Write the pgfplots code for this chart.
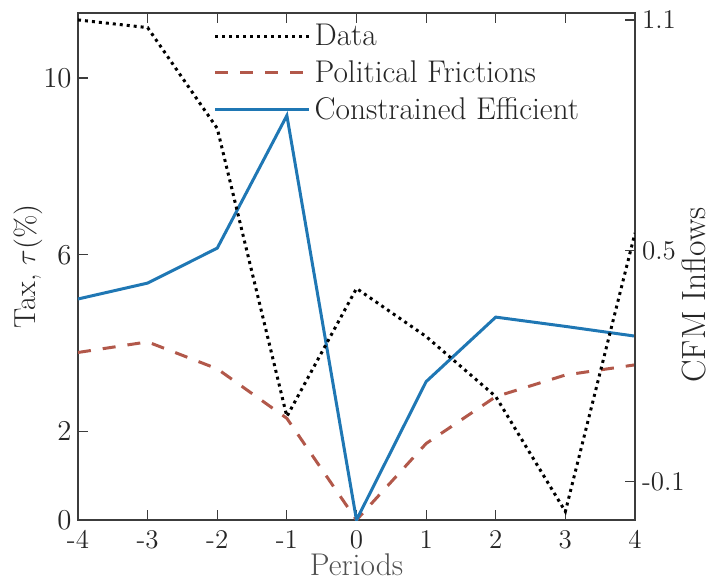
\documentclass[border=0pt]{standalone}
\usepackage{pgfplots}
\pgfplotsset{compat=1.18}
\definecolor{cblue}{RGB}{31,119,180}
\definecolor{cred}{RGB}{178,88,74}
\definecolor{axgray}{RGB}{60,60,60}
\definecolor{txtgray}{RGB}{38,38,38}
\definecolor{lblgray}{RGB}{80,80,80}
\begin{document}
\begin{tikzpicture}
\path[use as bounding box] (-39pt,-29.5pt) rectangle (317pt,260pt);
\pgfplotsset{
  every axis/.append style={font=\fontsize{13.5}{15}\selectfont},
  myaxis/.style={
    scale only axis, width=278.5pt, height=253.5pt,
    at={(0pt,0pt)}, anchor=south west,
    xmin=-4, xmax=4,
    tick align=inside, major tick length=5pt,
    axis line style={axgray, line width=0.6pt},
    every tick/.style={axgray, line width=0.6pt},
    tick label style={text=txtgray},
  },
}
\begin{axis}[myaxis,
  ymin=0, ymax=11.47,
  xtick={-4,-3,-2,-1,0,1,2,3,4},
  xticklabels={-4,-3,-2,-1,0,1,2,3,4},
  ytick={0,2,6,10},
  xtick pos=both, ytick pos=left,
  yticklabel style={inner xsep=1.5pt, xshift=-1.5pt},
  xticklabel style={inner ysep=1.5pt, yshift=-3.5pt},
  xlabel={Periods}, ylabel={Tax, $\tau(\%)$},
  xlabel style={font=\fontsize{15.7}{17}\selectfont, inner sep=1pt, text=lblgray, at={(axis description cs:0.5,-0.088)}, anchor=center},
  ylabel style={font=\fontsize{15.2}{17}\selectfont, inner sep=1pt, text=txtgray, at={(axis description cs:-0.0898,0.5)}, anchor=center, rotate=0},
  legend style={draw=none, fill=none, at={(0.232,0.995)}, anchor=north west,
    row sep=2pt, font=\fontsize{15.7}{17}\selectfont, text=txtgray},
  legend cell align=left,
  legend image code/.code={\draw[#1] (-3pt,0pt) -- (44pt,0pt);},
]
\addlegendimage{black, line width=1.5pt, dotted}
\addlegendentry{Data}
\addplot[cred, line width=1.5pt, dash pattern=on 6.5pt off 6pt] coordinates {
(-4,3.79) (-3,4.03) (-2,3.42) (-1,2.30) (0,0.0) (1,1.73) (2,2.79) (3,3.28) (4,3.51)};
\addlegendentry{Political Frictions}
\addplot[cblue, line width=1.5pt] coordinates {
(-4,5.00) (-3,5.36) (-2,6.15) (-1,9.15) (0,0.0) (1,3.13) (2,4.59) (3,4.38) (4,4.16)};
\addlegendentry{Constrained Efficient}
\end{axis}
\begin{axis}[myaxis,
  ymin=-0.2, ymax=1.118,
  axis y line*=right, axis x line=none,
  ytick={-0.1,0.5,1.1}, yticklabels={-0.1,0.5,1.1},
  ylabel={CFM Inflows},
  ylabel style={font=\fontsize{16.8}{19}\selectfont, inner sep=1pt, text=txtgray, at={(axis description cs:1.1059,0.444)}, anchor=center},
]
\addplot[black, line width=1.5pt, dotted] coordinates {
(-4,1.100) (-3,1.080) (-2,0.818) (-1,0.069) (0,0.402) (1,0.277) (2,0.121) (3,-0.178) (4,0.546)};
\end{axis}
\end{tikzpicture}
\end{document}
